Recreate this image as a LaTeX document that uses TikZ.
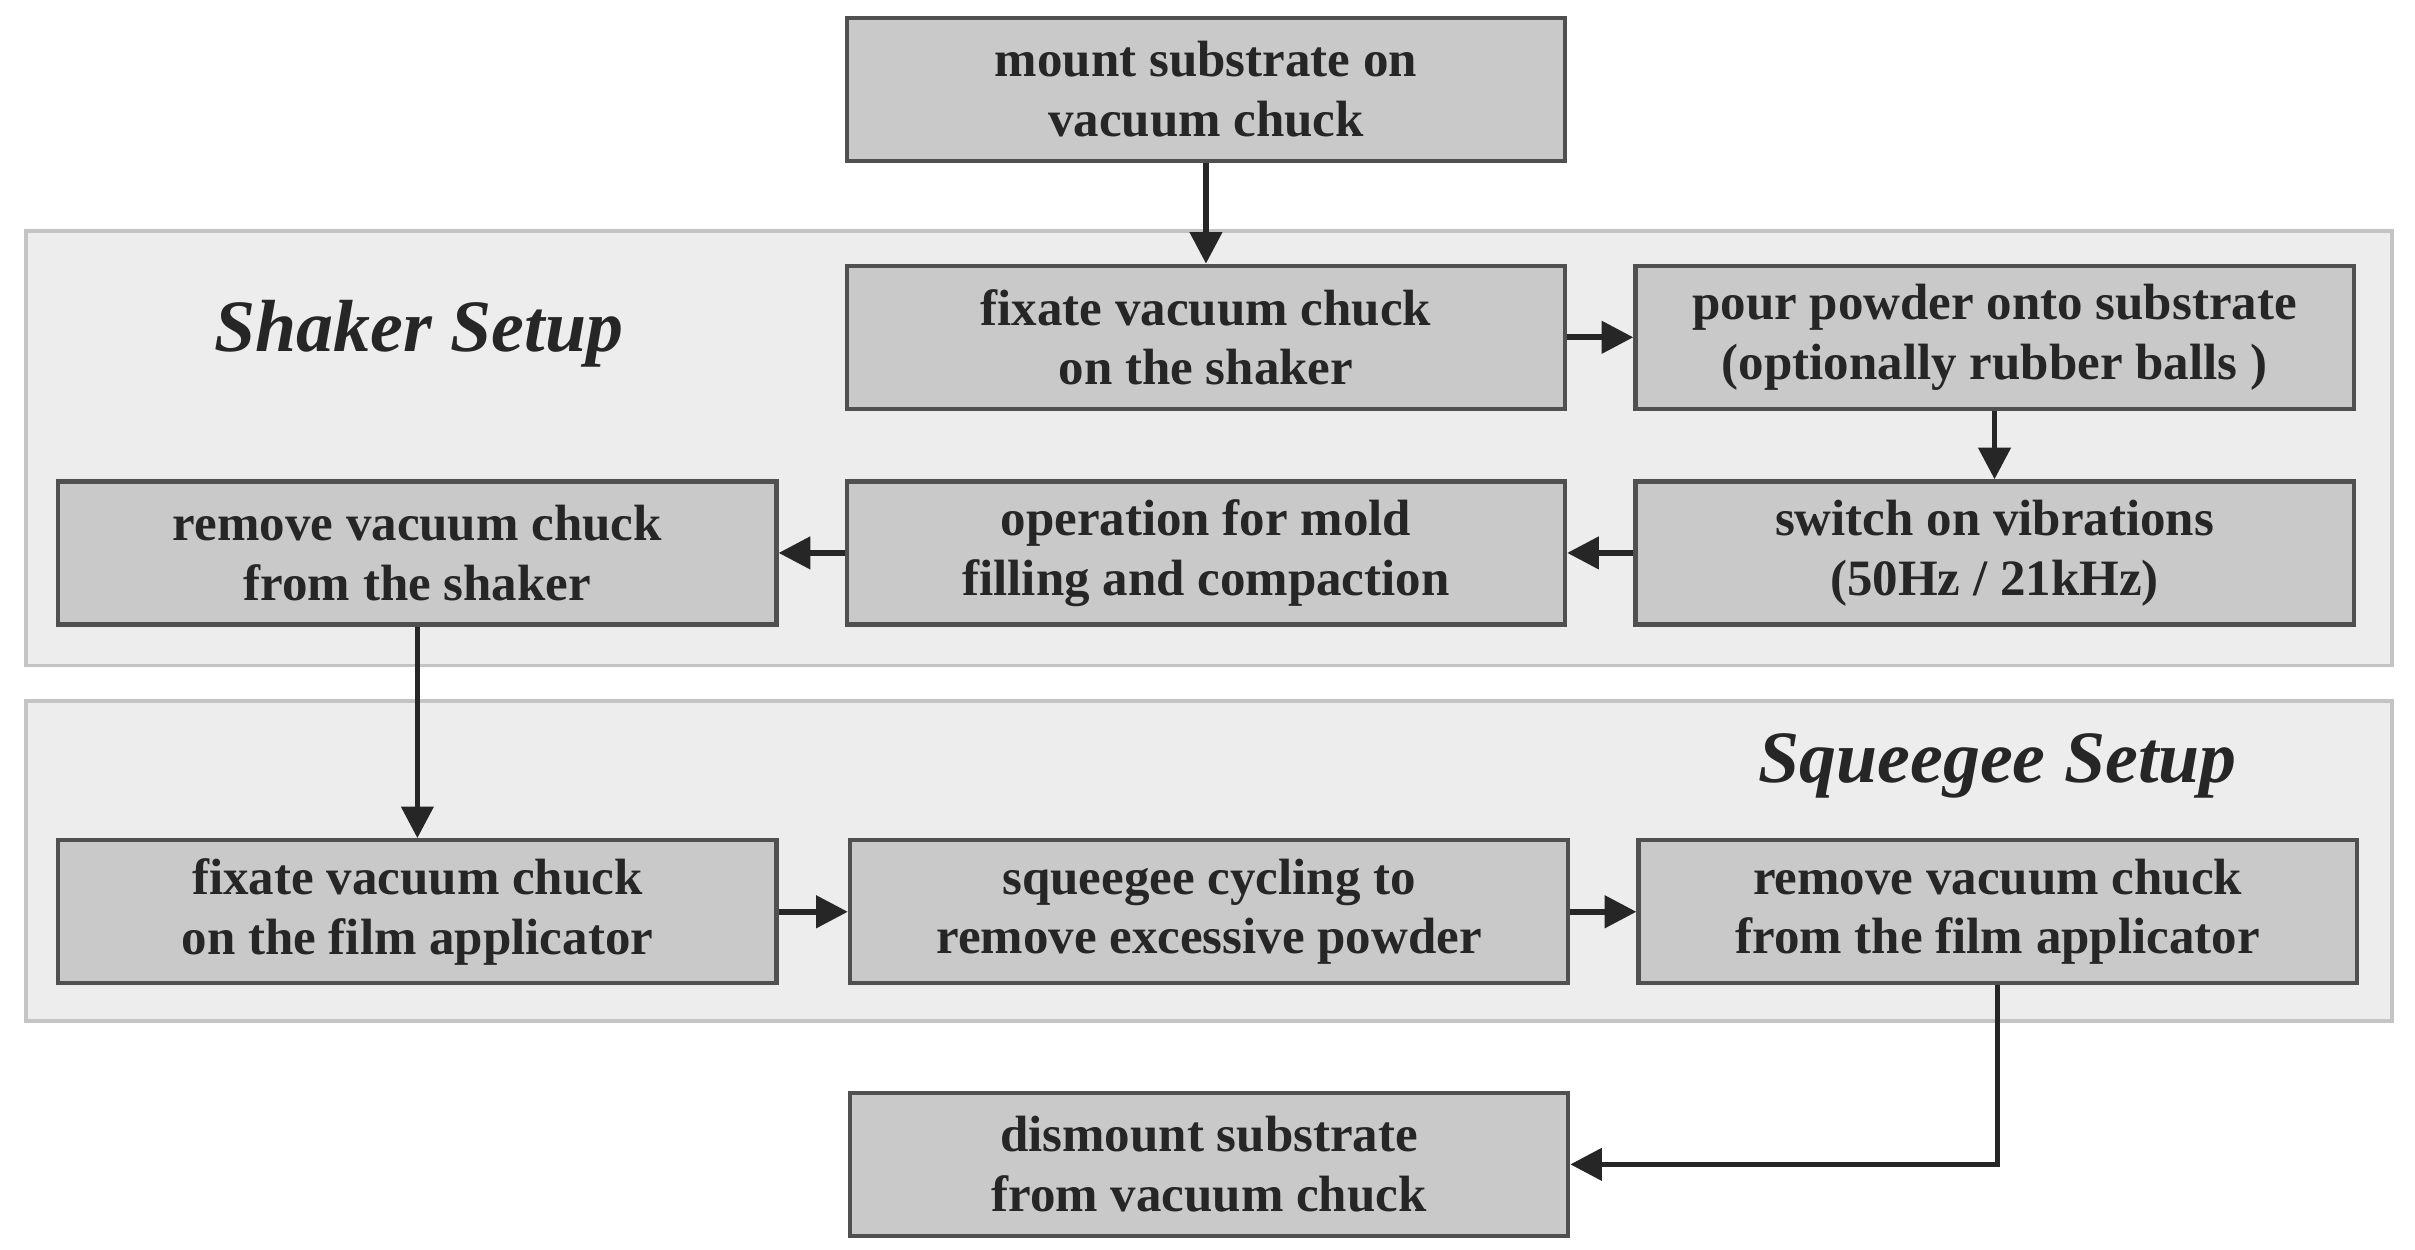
\documentclass[tikz,border=0pt]{standalone}
\usepackage{fontspec}
\setmainfont{Liberation Serif}
\usetikzlibrary{arrows.meta}
\definecolor{boxfill}{HTML}{C9C9C9}
\definecolor{boxline}{HTML}{505050}
\definecolor{panelfill}{HTML}{EDEDED}
\definecolor{panelline}{HTML}{C4C4C4}
\begin{document}
\begin{tikzpicture}[x=0.0154cm,y=-0.0154cm,
  box/.style={draw=boxline,line width=1.2pt,fill=boxfill,minimum width=7.18cm,minimum height=1.43cm,
    align=center,font=\fontsize{14.5}{17}\selectfont\bfseries,text=black!85,inner sep=0pt},
  panel/.style={draw=panelline,line width=1pt,fill=panelfill},
  ttl/.style={font=\fontsize{21}{24}\selectfont\bfseries\itshape,text=black!85},
  arr/.style={line width=1.6pt,draw=black!85,-{Triangle[length=9pt,width=9pt]}}]
\useasboundingbox[fill=white] (0,0) rectangle (1568,811);
\draw[panel] (17,150) rectangle (1553,432);
\draw[panel] (17,455) rectangle (1553,663);
\node[ttl] (t1) at (272,217) {Shaker Setup};
\node[ttl] (t2) at (1297,497) {Squeegee Setup};
\node[box] (mount) at (783,58) {mount substrate on\\vacuum chuck};
\node[box] (fix1) at (783,219) {fixate vacuum chuck\\on the shaker};
\node[box] (pour) at (1295,219) {pour powder onto substrate\\(optionally rubber balls )};
\node[box] (rem1) at (271,359) {remove vacuum chuck\\from the shaker};
\node[box] (op) at (783,359) {operation for mold\\filling and compaction};
\node[box] (sw) at (1295,359) {switch on vibrations\\(50Hz / 21kHz)};
\node[box] (fix2) at (271,592) {fixate vacuum chuck\\on the film applicator};
\node[box] (sq) at (785,592) {squeegee cycling to\\remove excessive powder};
\node[box] (rem2) at (1297,592) {remove vacuum chuck\\from the film applicator};
\node[box] (dis) at (785,756) {dismount substrate\\from vacuum chuck};
\draw[arr] (mount) -- (fix1);
\draw[arr] (fix1) -- (pour);
\draw[arr] (pour) -- (sw);
\draw[arr] (sw) -- (op);
\draw[arr] (op) -- (rem1);
\draw[arr] (rem1) -- (fix2);
\draw[arr] (fix2) -- (sq);
\draw[arr] (sq) -- (rem2);
\draw[arr] (rem2.south) |- (dis.east);
\end{tikzpicture}
\end{document}
